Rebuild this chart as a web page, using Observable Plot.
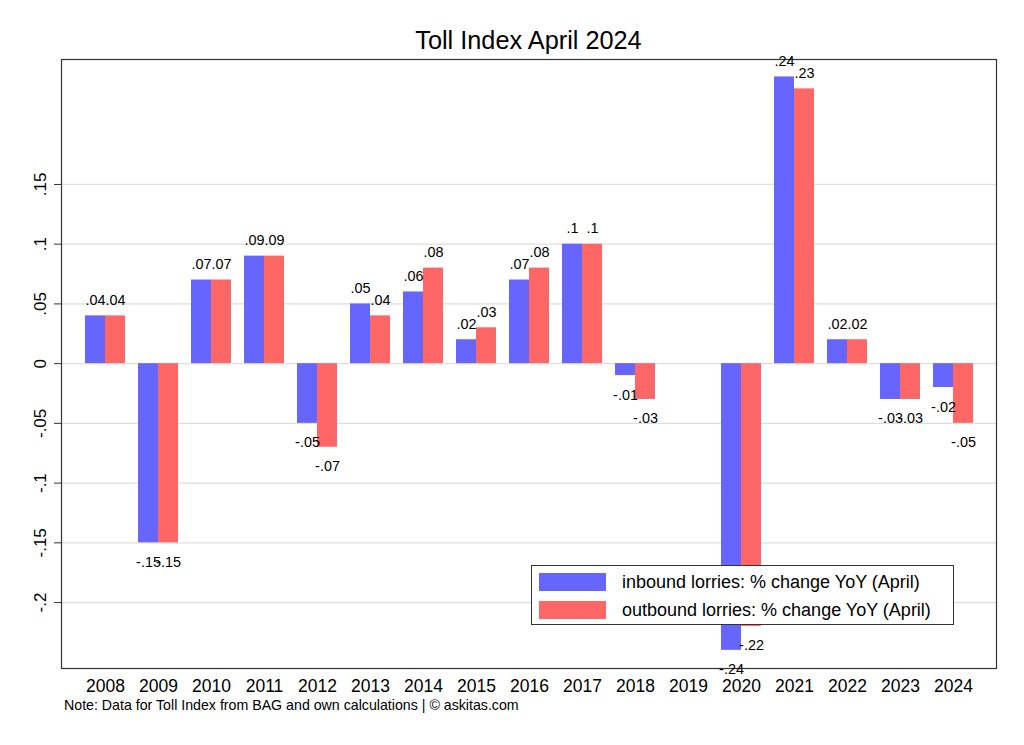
<!DOCTYPE html>
<html>
<head>
<meta charset="utf-8">
<script src="https://cdn.jsdelivr.net/npm/d3@7"></script>
<script src="https://cdn.jsdelivr.net/npm/@observablehq/plot@0.6"></script>
<style>
  html, body { margin: 0; padding: 0; background: #fff; }
  #root { position: relative; width: 1024px; height: 745px; font-family: "Liberation Sans", Arial, Helvetica, sans-serif; color: #000; }
  #title { position: relative; height: 50px; }
  #title div { position: absolute; top: 27.5px; left: 61px; width: 935px; text-align: center; font-size: 25.3px; line-height: 1; }
  #caption { margin-top: 0px; padding-left: 64px; font-size: 14.2px; line-height: 1; }
  #legend { position: absolute; left: 531px; top: 565px; width: 423px; height: 60px; border: 1px solid #333; background: #fff; box-sizing: border-box; }
  .sw { position: absolute; left: 7px; width: 67px; height: 18px; }
  .lt { position: absolute; left: 90px; font-size: 18px; line-height: 1; white-space: nowrap; }
</style>
</head>
<body>
<div id="root">
  <div id="title"><div>Toll Index April 2024</div></div>
  <div id="chart"></div>
  <div id="caption">Note: Data for Toll Index from BAG and own calculations | © askitas.com</div>
  <div id="legend"></div>
</div>
<script>
const years = ["2008","2009","2010","2011","2012","2013","2014","2015","2016","2017","2018","2019","2020","2021","2022","2023","2024"];
const inbound  = [0.04,-0.15,0.07,0.09,-0.05,0.05,0.06,0.02,0.07,0.1,-0.01,null,-0.24,0.24,0.02,-0.03,-0.02];
const outbound = [0.04,-0.15,0.07,0.09,-0.07,0.04,0.08,0.03,0.08,0.1,-0.03,null,-0.22,0.23,0.02,-0.03,-0.05];
const yTicks = [-0.2,-0.15,-0.1,-0.05,0,0.05,0.1,0.15];
const seriesNames = ["inbound lorries: % change YoY (April)", "outbound lorries: % change YoY (April)"];
const seriesColors = ["#6666ff", "#ff6666"];

const fmt = v => String(v).replace("0.", ".");

const inRows = years.map((y, i) => ({year: y, v: inbound[i]})).filter(d => d.v != null);
const outRows = years.map((y, i) => ({year: y, v: outbound[i]})).filter(d => d.v != null);

const half = 20;

const chart = Plot.plot({
  width: 1024,
  height: 648,
  marginTop: 9,
  marginBottom: 30,
  marginLeft: 61,
  marginRight: 28,
  style: {fontFamily: '"Liberation Sans", Arial, Helvetica, sans-serif', color: "#000", background: "#fff"},
  x: {domain: years, paddingInner: 0.248, paddingOuter: 0.414, label: null},
  y: {domain: [-0.2552, 0.2546], label: null},
  marks: [
    Plot.ruleY(yTicks, {stroke: "#dedede", strokeWidth: 1.3}),
    Plot.barY(inRows, {x: "year", y: "v", fill: seriesColors[0], insetRight: half, insetLeft: 0}),
    Plot.barY(outRows, {x: "year", y: "v", fill: seriesColors[1], insetLeft: half, insetRight: 0}),
    Plot.frame({stroke: "#333", strokeWidth: 1.2}),
    Plot.axisY({ticks: yTicks, tickFormat: fmt, tickSize: 7, tickPadding: 9, tickRotate: -90, fontSize: 17, label: null, stroke: "#333"}),
    Plot.axisX({tickSize: 0, tickPadding: 11, fontSize: 17.5, label: null}),
    Plot.text(inRows.filter(d => d.v > 0), {x: "year", y: "v", text: d => fmt(d.v), dx: -10, dy: -11, lineAnchor: "bottom", fontSize: 14.4}),
    Plot.text(inRows.filter(d => d.v < 0), {x: "year", y: "v", text: d => fmt(d.v), dx: -10, dy: 24, lineAnchor: "bottom", fontSize: 14.4}),
    Plot.text(outRows.filter(d => d.v > 0), {x: "year", y: "v", text: d => fmt(d.v), dx: 10, dy: -11, lineAnchor: "bottom", fontSize: 14.4}),
    Plot.text(outRows.filter(d => d.v < 0), {x: "year", y: "v", text: d => fmt(d.v), dx: 10, dy: 24, lineAnchor: "bottom", fontSize: 14.4})
  ]
});
document.getElementById("chart").appendChild(chart);
document.querySelector("#chart svg").style.display = "block";

const legend = document.getElementById("legend");
seriesNames.forEach((name, i) => {
  const sw = document.createElement("div");
  sw.className = "sw";
  sw.style.top = (7 + i * 28) + "px";
  sw.style.background = seriesColors[i];
  legend.appendChild(sw);
  const t = document.createElement("div");
  t.className = "lt";
  t.style.top = (7 + i * 28) + "px";
  t.textContent = name;
  legend.appendChild(t);
});
</script>
</body>
</html>
